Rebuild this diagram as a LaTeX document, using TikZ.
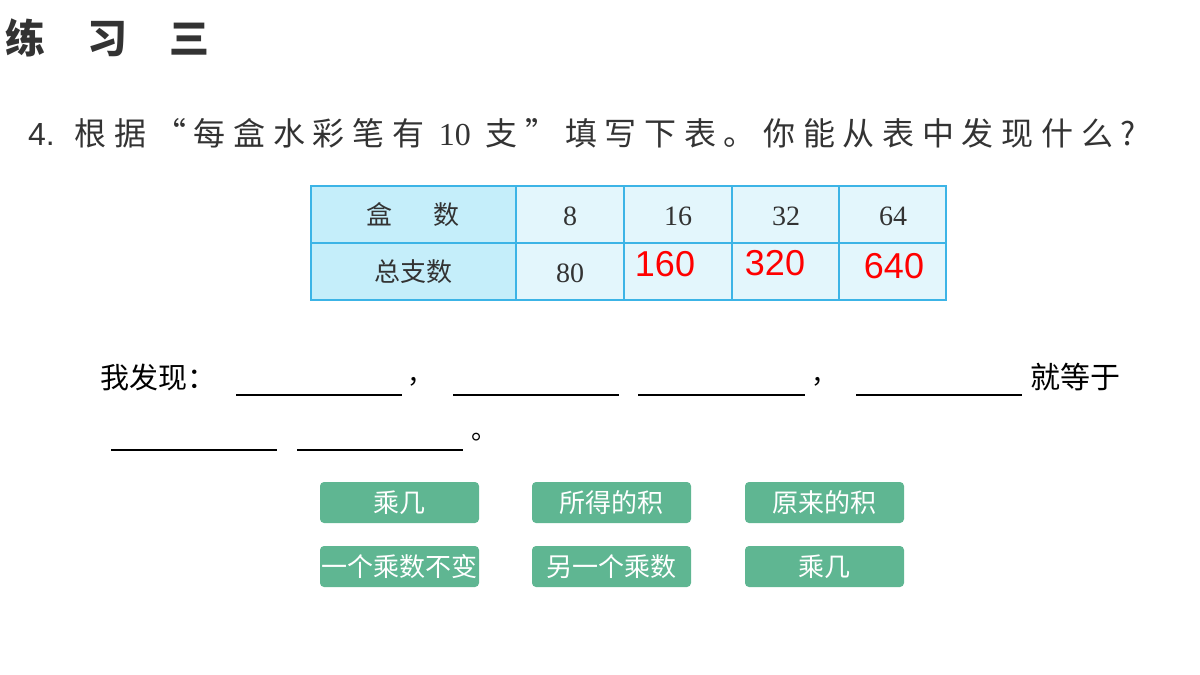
\documentclass[tikz,border=0pt]{standalone}
\usepackage{fontspec}
\setmainfont{Noto Sans CJK SC}
\newfontfamily\cjk{Noto Sans CJK SC}
\newfontfamily\cjkq[LetterSpace=24]{Noto Sans CJK SC}
\newfontfamily\num{Liberation Serif}
\newfontfamily\sans{Liberation Sans}
\definecolor{bd}{HTML}{3CB4E6}
\definecolor{hd}{HTML}{C5EEFA}
\definecolor{cl}{HTML}{E3F6FC}
\definecolor{bt}{HTML}{5FB692}
\definecolor{tx}{HTML}{333333}
\begin{document}
\begin{tikzpicture}[x=1pt,y=-1pt,
  btn/.style={fill=bt,rounded corners=4pt,draw=none},
  bl/.style={text=white,font=\cjk\fontsize{26}{26}\selectfont,inner sep=0},
  blank/.style={line width=1.2pt,black},
  red/.style={text=red,font=\sans\fontsize{36}{36}\selectfont,inner sep=0},
  cn/.style={font=\num\fontsize{28}{28}\selectfont,inner sep=0,text=tx}]
\useasboundingbox (0,0) rectangle (1200,675);
\node[anchor=west,inner sep=0,text=tx,font=\cjk\bfseries\fontsize{40}{40}\selectfont] (title) at (5,38) {练\hspace{1.05em}习\hspace{1.05em}三};
\node[anchor=west,inner sep=0,text=tx,font=\cjkq\fontsize{32}{32}\selectfont] (q) at (28,133) {{\sans 4.} 根据“每盒水彩笔有 {\num 10} 支”填写下表。你能从表中发现什么?};
% table
\fill[hd] (311,186) rectangle (516,300);
\fill[cl] (516,186) rectangle (946,300);
\draw[bd,line width=2pt] (311,186) rectangle (946,300);
\draw[bd,line width=1.2pt] (311,243) -- (946,243);
\foreach \x in {516,624,732,839} \draw[bd,line width=1.2pt] (\x,186) -- (\x,300);
\node[font=\cjk\fontsize{26}{26}\selectfont,text=tx] (h1) at (413,215) {盒\hspace{1.6em}数};
\node[font=\cjk\fontsize{26}{26}\selectfont,text=tx] (h2) at (413,272) {总支数};
\node[cn] (a1) at (570,216) {8};
\node[cn] (a2) at (678,216) {16};
\node[cn] (a3) at (786,216) {32};
\node[cn] (a4) at (893,216) {64};
\node[cn] (b1) at (570,273) {80};
\node[red] (b2) at (665,264) {160};
\node[red] (b3) at (775,263) {320};
\node[red] (b4) at (894,266) {640};
% sentence
\node[anchor=west,inner sep=0,font=\cjk\fontsize{29}{29}\selectfont] (f) at (100,377) {我发现：};
\draw[blank] (236,395) -- (402,395);
\node[inner sep=0,font=\cjk\fontsize{26}{26}\selectfont] (c1) at (420,382) {，};
\draw[blank] (453,395) -- (619,395);
\draw[blank] (638,395) -- (805,395);
\node[inner sep=0,font=\cjk\fontsize{26}{26}\selectfont] (c2) at (824,382) {，};
\draw[blank] (856,395) -- (1022,395);
\node[anchor=west,inner sep=0,font=\cjk\fontsize{30}{30}\selectfont] (j) at (1030,377) {就等于};
\draw[blank] (111,450) -- (277,450);
\draw[blank] (297,450) -- (463,450);
\node[inner sep=0,font=\cjk\fontsize{26}{26}\selectfont] (p) at (484,437) {。};
% buttons
\fill[btn] (320,482) rectangle (479,523);
\fill[btn] (532,482) rectangle (691,523);
\fill[btn] (745,482) rectangle (904,523);
\fill[btn] (320,546) rectangle (479,587);
\fill[btn] (532,546) rectangle (691,587);
\fill[btn] (745,546) rectangle (904,587);
\node[bl] (k1) at (399.5,503) {乘几};
\node[bl] (k2) at (611.5,503) {所得的积};
\node[bl] (k3) at (824.5,503) {原来的积};
\node[bl] (k4) at (399.5,567) {一个乘数不变};
\node[bl] (k5) at (611.5,567) {另一个乘数};
\node[bl] (k6) at (824.5,567) {乘几};
\end{tikzpicture}
\end{document}
